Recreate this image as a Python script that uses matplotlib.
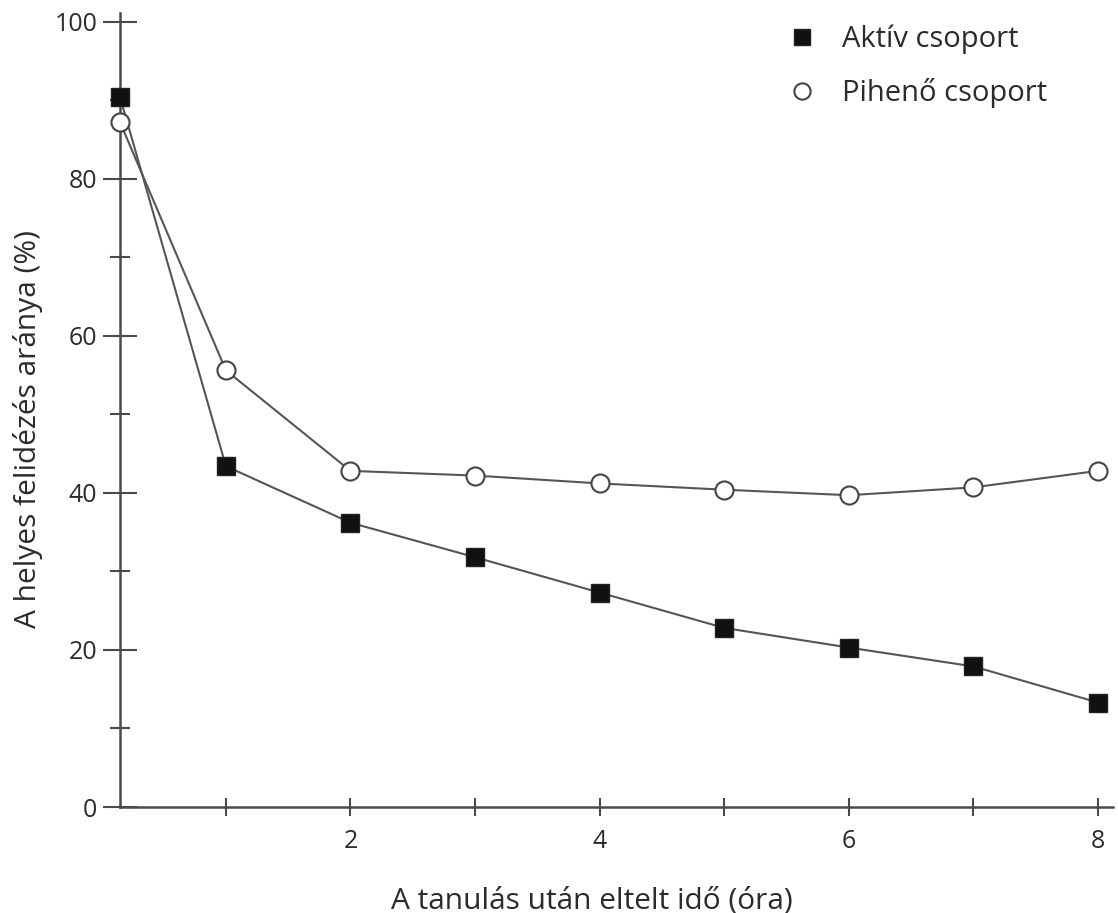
import matplotlib
matplotlib.use("Agg")
import matplotlib.pyplot as plt
from matplotlib.ticker import MultipleLocator, FixedLocator

plt.rcParams['font.family'] = ['Open Sans', 'DejaVu Sans']

# Hours elapsed after learning
hours = [0.15, 1, 2, 3, 4, 5, 6, 7, 8]
# Correct recall rate (%)
active_group = [90.4, 43.4, 36.2, 31.8, 27.3, 22.8, 20.3, 17.9, 13.3]
rest_group = [87.2, 55.6, 42.8, 42.2, 41.2, 40.4, 39.7, 40.7, 42.8]

x_ticks = [1, 2, 3, 4, 5, 6, 7, 8]
x_tick_labels = ['', '2', '', '4', '', '6', '', '8']
y_ticks = [0, 20, 40, 60, 80, 100]

label_active = 'Aktív csoport'
label_rest = 'Pihenő csoport'
xlabel = 'A tanulás után eltelt idő (óra)'
ylabel = 'A helyes felidézés aránya (%)'

W, H = 1118, 913
fig = plt.figure(figsize=(W / 100, H / 100), dpi=100)
ax = fig.add_axes([120 / W, 1 - 807 / H, (1113 - 120) / W, (807 - 13) / H])

axis_col = '#4a4a4a'
line_col = '#555555'
text_col = '#2b2b2b'
tick_fs = 18
label_fs = 21.5
legend_fs = 21

ax.plot(hours, active_group, color=line_col, lw=1.5, marker='s', ms=13,
        mfc='#111111', mec='#222222', mew=1, label=label_active, zorder=3,
        clip_on=False)
ax.plot(hours, rest_group, color=line_col, lw=1.5, marker='o', ms=13,
        mfc='white', mec='#444444', mew=1.5, label=label_rest, zorder=4,
        clip_on=False)

ax.set_xlim(0.15, 8.12)
ax.set_ylim(0, 101.1)

for side in ('top', 'right'):
    ax.spines[side].set_visible(False)
for side in ('left', 'bottom'):
    ax.spines[side].set_color(axis_col)
    ax.spines[side].set_linewidth(1.8)

ax.yaxis.set_major_locator(FixedLocator(y_ticks))
ax.yaxis.set_minor_locator(MultipleLocator(10))
ax.xaxis.set_major_locator(FixedLocator(x_ticks))
ax.set_xticklabels(x_tick_labels)

ax.tick_params(axis='y', which='major', direction='inout', length=24.5,
               width=1.5, color=axis_col, pad=4, labelsize=tick_fs,
               labelcolor=text_col)
ax.tick_params(axis='y', which='minor', direction='inout', length=15,
               width=1.5, color=axis_col)
ax.tick_params(axis='x', which='major', direction='inout', length=13,
               width=1.5, color=axis_col, pad=9.5, labelsize=tick_fs,
               labelcolor=text_col)

ax.set_xlabel(xlabel, fontsize=label_fs, color=text_col, va='baseline')
ax.xaxis.set_label_coords((592 - 120) / 993, (807 - 908) / 794)
ax.set_ylabel(ylabel, fontsize=label_fs, color=text_col, va='center')
ax.yaxis.set_label_coords((28 - 120) / 993, (807 - 429) / 794)

leg = ax.legend(loc='upper left', bbox_to_anchor=(787 / W, 1 - 24.5 / H),
                bbox_transform=fig.transFigure, frameon=False,
                fontsize=legend_fs, handlelength=1.0, handletextpad=0.9,
                borderpad=0, borderaxespad=0, labelspacing=0.82,
                markerscale=0.9)
for t in leg.get_texts():
    t.set_color(text_col)
for h in leg.legend_handles:
    h.set_linestyle('none')

fig.savefig('out.png', dpi=100)
